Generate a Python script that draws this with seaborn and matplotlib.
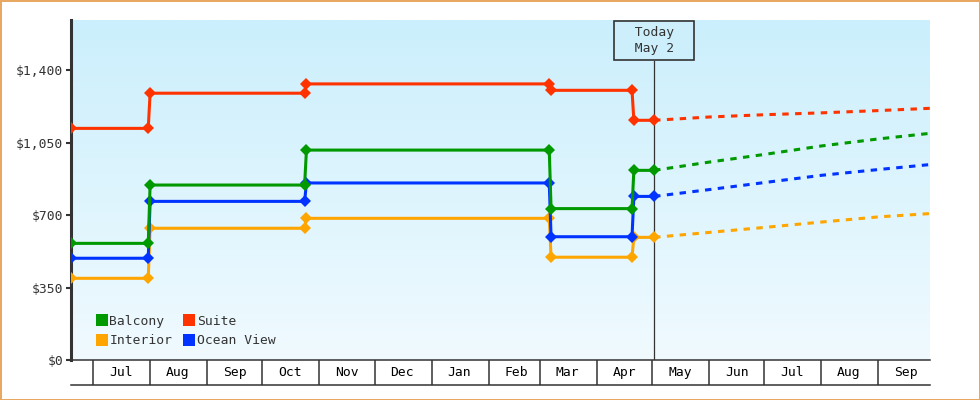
import pandas as pd
import numpy as np
import matplotlib
matplotlib.use('Agg')
import matplotlib.pyplot as plt
import matplotlib.dates as mdates
import matplotlib.transforms as mtransforms
from matplotlib.colors import LinearSegmentedColormap
from matplotlib.lines import Line2D
from matplotlib.ticker import NullFormatter, FuncFormatter
import seaborn as sns

# data
cabins = ['Interior', 'Ocean View', 'Balcony', 'Suite']
hist_dates = ['2022-06-19', '2022-07-31', '2022-08-01', '2022-10-24', '2022-10-25',
              '2023-03-06', '2023-03-07', '2023-04-20', '2023-04-21', '2023-05-02']
interior = [395, 395, 637, 637, 685, 685, 497, 497, 593, 593]
ocean_view = [492, 492, 767, 767, 856, 856, 596, 596, 791, 791]
balcony = [564, 564, 846, 846, 1015, 1015, 732, 732, 917, 917]
suite = [1120, 1120, 1290, 1290, 1335, 1335, 1304, 1304, 1159, 1159]

fc_dates = ['2023-05-02', '2023-06-01', '2023-07-01', '2023-08-01', '2023-09-01', '2023-09-29']
interior_fc = [593, 617, 641, 667, 692, 708]
ocean_view_fc = [791, 824, 858, 893, 921, 945]
balcony_fc = [917, 957, 994, 1035, 1069, 1096]
suite_fc = [1159, 1175, 1186, 1195, 1206, 1217]

today = '2023-05-02'
today_label = '  Today  \n  May 2  '
y_ticks = [0, 350, 700, 1050, 1400]

colors = {'Interior': '#ffa500', 'Ocean View': '#0033ff', 'Balcony': '#009900', 'Suite': '#ff3300'}

# long tables
hist_df = pd.concat([
    pd.DataFrame({'date': pd.to_datetime(hist_dates), 'price': v, 'cabin': c})
    for c, v in zip(cabins, [interior, ocean_view, balcony, suite])
])
fc_df = pd.concat([
    pd.DataFrame({'date': pd.to_datetime(fc_dates), 'price': v, 'cabin': c})
    for c, v in zip(cabins, [interior_fc, ocean_view_fc, balcony_fc, suite_fc])
])

plt.rcParams['font.family'] = ['DejaVu Sans Mono']
dark = '#333333'

fig = plt.figure(figsize=(9.8, 4), dpi=100)
fig.patch.set_facecolor('white')
fig.patch.set_edgecolor('#e8a862')
fig.patch.set_linewidth(2)
ax = fig.add_axes([71 / 980, 40 / 400, 859 / 980, 340 / 400])

# gradient background
grad = LinearSegmentedColormap.from_list('bg', ['#f0faff', '#cbeffc'])
ax.imshow(np.linspace(0, 1, 256).reshape(-1, 1), cmap=grad, origin='lower',
          extent=[0, 1, 0, 1], transform=ax.transAxes, aspect='auto', zorder=0)

sns.lineplot(data=fc_df, x='date', y='price', hue='cabin', hue_order=cabins, palette=colors,
             estimator=None, sort=False, legend=False, ax=ax,
             linewidth=2.2, linestyle=(0, (2.1, 2.1)), zorder=3)
sns.lineplot(data=hist_df, x='date', y='price', hue='cabin', hue_order=cabins, palette=colors,
             estimator=None, sort=False, legend=False, ax=ax,
             linewidth=2.2, marker='D', markersize=6.5, markeredgewidth=0, zorder=4)

# today line + box
t = pd.Timestamp(today)
ax.axvline(t, ymax=(360 - 60.7) / 340, color=dark, lw=0.9, zorder=2)
trans = mtransforms.blended_transform_factory(ax.transData, ax.transAxes)
ax.text(t, 0.94, today_label, transform=trans, ha='center', va='center', fontsize=9.4,
        color=dark, linespacing=1.35, zorder=5,
        bbox=dict(boxstyle='square,pad=0.35', fc='#cdeffb', ec=dark, lw=1.2))

ax.set_xlim(pd.Timestamp(hist_dates[0]), pd.Timestamp(fc_dates[-1]))
ax.set_ylim(0, 1644)

# axes styling
for s in ['top', 'right']:
    ax.spines[s].set_visible(False)
ax.spines['left'].set_linewidth(2.2)
ax.spines['left'].set_color(dark)
ax.spines['bottom'].set_linewidth(1.1)
ax.spines['bottom'].set_color(dark)

ax.set_yticks(y_ticks)
ax.yaxis.set_major_formatter(FuncFormatter(lambda v, p: '${:,.0f}'.format(v)))
ax.tick_params(axis='y', length=3.6, width=1.5, color=dark, labelcolor=dark, labelsize=9.4, pad=2)

ax.xaxis.set_major_locator(mdates.MonthLocator())
ax.xaxis.set_major_formatter(NullFormatter())
ax.xaxis.set_minor_locator(mdates.MonthLocator(bymonthday=16))
ax.xaxis.set_minor_formatter(mdates.DateFormatter('%b'))
ax.tick_params(axis='x', which='major', length=18, width=1.1, color=dark, direction='out')
ax.tick_params(axis='x', which='minor', length=0, pad=4, labelsize=9.4, labelcolor='black')
ax.set_xlabel('')
ax.set_ylabel('')
ax.plot([0, 1], [-25 / 340, -25 / 340], transform=ax.transAxes, clip_on=False, color=dark, lw=1.1)

# legend
order = ['Balcony', 'Interior', 'Suite', 'Ocean View']
handles = [Line2D([], [], marker='s', linestyle='', markersize=8, markeredgewidth=0,
                  color=colors[c]) for c in order]
ax.legend(handles, order, ncol=2, loc='lower left', bbox_to_anchor=(0.022, 0.018), frameon=False,
          fontsize=9.4, handlelength=0.8, handletextpad=0.2, columnspacing=0.9,
          labelspacing=0.5, borderpad=0, labelcolor=dark)

fig.savefig('out.png', dpi=100, facecolor=fig.get_facecolor(), edgecolor=fig.get_edgecolor())
